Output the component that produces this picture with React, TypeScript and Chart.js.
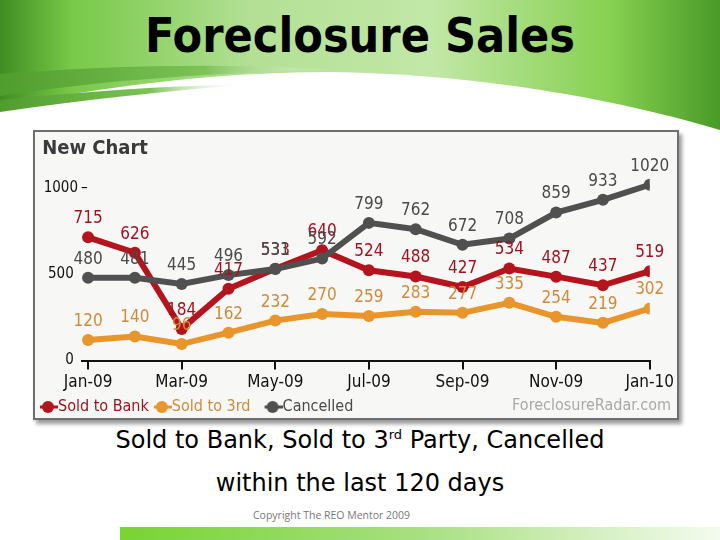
import React, { useEffect, useRef } from "react";
import { Chart, registerables } from "chart.js";

Chart.register(...registerables);

const months = ["Jan-09", "Feb-09", "Mar-09", "Apr-09", "May-09", "Jun-09", "Jul-09", "Aug-09", "Sep-09", "Oct-09", "Nov-09", "Dec-09", "Jan-10"];
const soldToBank = [715, 626, 184, 417, 533, 640, 524, 488, 427, 534, 487, 437, 519];
const soldToThird = [120, 140, 96, 162, 232, 270, 259, 283, 277, 335, 254, 219, 302];
const cancelled = [480, 481, 445, 496, 531, 592, 799, 762, 672, 708, 859, 933, 1020];
const seriesNames = ["Sold to Bank", "Sold to 3rd", "Cancelled"];
const yTicks = [0, 500, 1000];
const xTickIdx = [0, 2, 4, 6, 8, 10, 12];

const FONT = "'DejaVu Sans Condensed', 'Liberation Sans Narrow', 'Roboto', sans-serif";
const SLIDE_FONT = "'DejaVu Sans', sans-serif";
const TITLE_FONT = "'DejaVu Sans Condensed', 'DejaVu Sans', sans-serif";

const lineColors = ["#b3141d", "#e8952c", "#505050"];
const labelColors = ["#a01222", "#d08a3c", "#4a4a4a"];

function legendImg(color: string) {
  const c = document.createElement("canvas");
  c.width = 28;
  c.height = 14;
  const ctx = c.getContext("2d")!;
  ctx.strokeStyle = color;
  ctx.lineWidth = 3;
  ctx.beginPath();
  ctx.moveTo(10, 7);
  ctx.lineTo(28, 7);
  ctx.stroke();
  ctx.fillStyle = color;
  ctx.beginPath();
  ctx.arc(18, 7, 6, 0, Math.PI * 2);
  ctx.fill();
  return c;
}

const valueLabels = {
  id: "valueLabels",
  afterDatasetsDraw(chart: any) {
    const ctx = chart.ctx;
    ctx.save();
    ctx.font = `17px ${FONT}`;
    ctx.textAlign = "center";
    ctx.textBaseline = "bottom";
    chart.data.datasets.forEach((ds: any, i: number) => {
      const meta = chart.getDatasetMeta(i);
      ctx.fillStyle = labelColors[i];
      meta.data.forEach((p: any, j: number) => {
        ctx.fillText(String(ds.data[j].y), p.x, p.y - 10);
      });
    });
    ctx.restore();
  },
};

// small dash drawn after the top y tick label, as in the original
const topTickDash = {
  id: "topTickDash",
  afterDraw(chart: any) {
    const y = chart.scales.y;
    const ctx = chart.ctx;
    ctx.save();
    ctx.font = `15px ${FONT}`;
    ctx.fillStyle = "#111";
    ctx.textAlign = "left";
    ctx.textBaseline = "middle";
    ctx.fillText("–", y.right - 1, y.getPixelForValue(yTicks[yTicks.length - 1]));
    ctx.restore();
  },
};

function ChartView() {
  const ref = useRef<HTMLCanvasElement>(null);
  useEffect(() => {
    const series = [soldToBank, soldToThird, cancelled];
    const chart = new Chart(ref.current!, {
      type: "line",
      data: {
        datasets: series.map((s, i) => ({
          label: seriesNames[i],
          data: s.map((v, j) => ({ x: j, y: v })),
          borderColor: lineColors[i],
          backgroundColor: lineColors[i],
          borderWidth: 6,
          pointRadius: 6,
          pointBorderWidth: 0,
          order: i === 2 ? 0 : i === 0 ? 1 : 2,
          tension: 0,
        })),
      },
      options: {
        animation: false,
        responsive: false,
        layout: { padding: { left: 0, right: 24, top: 0, bottom: -7 } },
        plugins: {
          tooltip: { enabled: false },
          title: {
            display: true,
            text: "\u2009\u2009New Chart",
            align: "start",
            color: "#3a3a3a",
            font: { family: FONT, size: 20, weight: "bold" },
            padding: { top: 5, bottom: 10 },
          },
          legend: {
            position: "bottom",
            align: "start",
            labels: {
              usePointStyle: true,
              pointStyleWidth: 12,
              padding: 3,
              font: { family: FONT, size: 16 },
              generateLabels: (ch: any) =>
                ch.data.datasets.map((ds: any, i: number) => ({
                  text: i === 1 ? ds.label + "  " : ds.label,
                  fontColor: labelColors[i],
                  pointStyle: legendImg(lineColors[i]),
                  datasetIndex: i,
                  strokeStyle: lineColors[i],
                  fillStyle: lineColors[i],
                  lineWidth: 0,
                })),
            },
          },
        },
        scales: {
          x: {
            type: "linear",
            min: -0.13,
            max: 12,
            afterBuildTicks: (scale: any) => {
              scale.ticks = xTickIdx.map((v) => ({ value: v }));
            },
            ticks: {
              autoSkip: false,
              maxRotation: 0,
              color: "#111",
              font: { family: FONT, size: 17 },
              padding: 3,
              callback: (v: any) => months[Math.round(Number(v))] ?? "",
            },
            grid: { display: true, drawOnChartArea: false, drawTicks: true, tickLength: 9, color: "#111", lineWidth: 2 },
            border: { display: true, color: "#111", width: 2 },
          },
          y: {
            min: 0,
            max: 1100,
            afterBuildTicks: (scale: any) => {
              scale.ticks = yTicks.map((v) => ({ value: v }));
            },
            afterFit: (scale: any) => {
              scale.width = 47;
            },
            ticks: {
              color: "#111",
              font: { family: FONT, size: 15 },
              padding: 4,
              callback: (v: any) => (Number(v) === 1000 ? "1000" : String(v) + " "),
            },
            grid: { display: false, drawTicks: false },
            border: { display: false },
          },
        },
      },
      plugins: [valueLabels, topTickDash],
    } as any);
    return () => chart.destroy();
  }, []);
  return <canvas ref={ref} width={642} height={286} style={{ display: "block" }} />;
}

export default function App() {
  return (
    <div style={{ position: "absolute", left: 0, top: 0, width: 720, height: 540, overflow: "hidden", background: "#fff" }}>
      <svg width={720} height={140} style={{ position: "absolute", left: 0, top: 0 }}>
        <defs>
          <linearGradient id="hg" x1="0" x2="1" y1="0" y2="0">
            <stop offset="0" stopColor="#3f8d22" />
            <stop offset="0.1" stopColor="#78c948" />
            <stop offset="0.35" stopColor="#b3e095" />
            <stop offset="0.6" stopColor="#c2e8a7" />
            <stop offset="0.85" stopColor="#86d050" />
            <stop offset="1" stopColor="#4a9a28" />
          </linearGradient>
          <linearGradient id="sw" x1="0" x2="1" y1="0" y2="0">
            <stop offset="0" stopColor="#4f9d2c" />
            <stop offset="0.6" stopColor="#7cc256" />
            <stop offset="1" stopColor="#ffffff" stopOpacity="0" />
          </linearGradient>
        </defs>
        <rect x={0} y={0} width={720} height={140} fill="url(#hg)" />
        <path d="M0,108 C120,82 240,72 330,72 C480,74 620,100 720,130 L720,140 L0,140 Z" fill="#fff" />
        <path d="M0,74 C100,66 220,62 340,70 C220,72 100,80 0,96 Z" fill="url(#sw)" />
        <path d="M0,100 C80,92 160,86 250,84 C160,92 80,100 0,112 Z" fill="url(#sw)" />
      </svg>
      <div
        style={{
          position: "absolute",
          left: 0,
          width: 720,
          top: 7,
          textAlign: "center",
          fontFamily: TITLE_FONT,
          fontWeight: "bold",
          fontSize: 48,
          color: "#000",
        }}
      >
        Foreclosure Sales
      </div>
      <div
        style={{
          position: "absolute",
          left: 33,
          top: 130,
          width: 642,
          height: 286,
          border: "2px solid #6e6e6e",
          boxShadow: "3px 4px 4px #9a9a9a",
          background: "#f7f7f5",
        }}
      >
        <ChartView />
        <div
          style={{
            position: "absolute",
            right: 6,
            bottom: 4,
            fontFamily: FONT,
            fontSize: 16,
            color: "#a8a8a8",
          }}
        >
          ForeclosureRadar.com
        </div>
      </div>
      <div
        style={{
          position: "absolute",
          left: 0,
          width: 720,
          top: 423,
          textAlign: "center",
          fontFamily: SLIDE_FONT,
          fontSize: 24,
          lineHeight: "34px",
          color: "#000",
        }}
      >
        Sold to Bank, Sold to 3<sup style={{ fontSize: 13, lineHeight: 0 }}>rd</sup> Party, Cancelled
      </div>
      <div
        style={{
          position: "absolute",
          left: 0,
          width: 720,
          top: 466,
          textAlign: "center",
          fontFamily: SLIDE_FONT,
          fontSize: 24,
          lineHeight: "34px",
          color: "#000",
        }}
      >
        within the last 120 days
      </div>
      <div
        style={{
          position: "absolute",
          left: 253,
          top: 508,
          fontFamily: "'Open Sans', sans-serif",
          fontSize: 10.5,
          color: "#777",
        }}
      >
        Copyright The REO Mentor 2009
      </div>
      <div
        style={{
          position: "absolute",
          left: 120,
          top: 527,
          width: 600,
          height: 13,
          background: "linear-gradient(to right, #78d432, #a8df80 50%, #f4fbef)",
        }}
      />
    </div>
  );
}
